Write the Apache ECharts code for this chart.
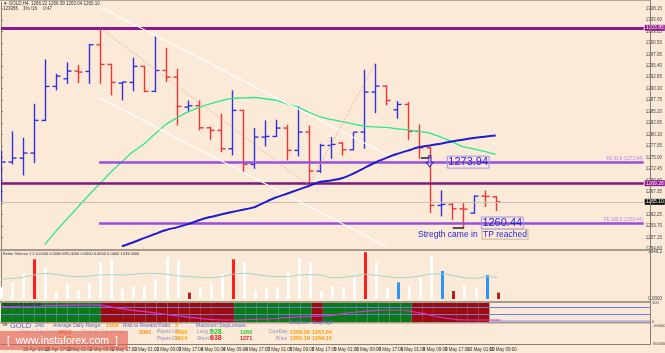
<!DOCTYPE html>
<html><head><meta charset="utf-8">
<script src="https://cdn.jsdelivr.net/npm/echarts@6.0.0/dist/echarts.min.js"></script>
<style>html,body{margin:0;padding:0;background:#faead7;overflow:hidden}#c{width:665px;height:353px}</style>
</head><body><div id="c"></div>
<script>
// ---------- data ----------
const dateLabels = ['29 Apr 2016','29 Apr 09:00','29 Apr 17:00','2 May 01:00','2 May 09:00','2 May 17:00','3 May 01:00','3 May 09:00','3 May 17:00','4 May 01:00','4 May 09:00','4 May 17:00','5 May 01:00','5 May 09:00','5 May 17:00','6 May 01:00','6 May 09:00','6 May 17:00','9 May 01:00','9 May 09:00','9 May 17:00','10 May 01:00','10 May 09:00'];
const opens  = [1272.83,1273.95,1274.84,1275.95,1283.23,1290.80,1292.51,1294.22,1294.14,1300.08,1295.70,1291.54,1291.69,1295.26,1289.69,1294.36,1292.88,1286.20,1286.50,1281.59,1281.00,1276.92,1285.46,1273.43,1279.52,1279.66,1281.52,1276.55,1280.63,1271.94,1277.66,1278.18,1276.70,1280.63,1289.54,1290.87,1285.60,1286.79,1280.78,1277.14,1264.30,1264.52,1263.55,1262.59,1266.38,1266.22];
const highs  = [1276.55,1280.78,1279.37,1286.94,1296.81,1293.62,1296.15,1295.63,1300.30,1303.87,1295.85,1291.84,1297.18,1295.40,1301.94,1299.41,1294.74,1287.68,1287.68,1281.89,1284.71,1289.91,1285.60,1281.52,1283.23,1283.38,1282.26,1286.35,1282.11,1278.03,1279.52,1278.40,1280.63,1294.51,1295.85,1291.02,1287.53,1287.31,1282.34,1277.29,1267.64,1264.82,1264.82,1266.52,1267.64,1266.39];
const lows   = [1265.04,1273.43,1270.98,1273.72,1283.08,1289.91,1291.39,1291.54,1291.39,1291.39,1288.80,1287.68,1289.69,1289.54,1289.54,1291.77,1282.11,1285.08,1281.00,1278.92,1276.18,1275.43,1271.72,1272.46,1277.44,1279.52,1274.32,1275.21,1268.75,1271.50,1274.69,1275.43,1276.55,1276.92,1284.86,1286.57,1283.60,1278.92,1274.69,1262.59,1261.85,1261.10,1259.10,1262.44,1263.93,1263.04];
const closes = [1273.95,1274.84,1275.95,1283.23,1290.80,1293.10,1294.22,1293.99,1300.08,1295.70,1291.69,1291.77,1295.26,1289.69,1294.36,1292.88,1286.35,1286.50,1281.59,1281.00,1276.92,1285.46,1273.43,1279.52,1279.66,1281.52,1276.55,1280.63,1271.94,1277.66,1277.88,1276.70,1280.63,1289.54,1290.87,1287.68,1286.79,1280.78,1277.14,1264.30,1264.52,1263.55,1263.48,1266.38,1266.30,1265.10];
const maFastStart = 4;
const maFast = [1255.61,1258.57,1261.27,1263.96,1266.63,1269.20,1271.76,1274.05,1276.23,1277.99,1280.20,1282.31,1283.81,1285.12,1286.10,1286.92,1287.59,1288.15,1288.24,1288.33,1288.06,1287.70,1286.97,1286.17,1285.05,1284.07,1283.45,1282.96,1282.47,1281.96,1281.78,1281.67,1281.38,1281.11,1280.78,1280.40,1279.53,1278.55,1277.39,1276.92,1276.32,1275.68];
const maSlowStart = 11;
const maSlow = [1255.20,1256.06,1257.01,1257.93,1258.82,1259.42,1260.13,1261.00,1261.71,1262.27,1262.83,1263.34,1263.87,1264.99,1266.06,1266.90,1267.77,1268.64,1269.53,1269.86,1270.35,1271.33,1272.56,1273.81,1274.83,1275.74,1276.50,1277.24,1277.66,1278.06,1278.53,1278.95,1279.31,1279.62,1279.86];
const volumes = [512,678,1038,1646,1314,304,623,374,650,1508,1646,415,512,540,816,1729,1619,263,484,650,1024,1646,1508,346,443,470,1093,1688,1508,332,512,484,885,1940,1508,443,692,581,899,1785,1162,332,581,443,996,263];
const volumeKinds = 'wwwrwwwwwwwwwwwwwdwwwrwwwwwwwwwwwrwwbwwwbdwwbd';
const volumeAvg = [816,857,899,996,1065,1023,954,927,954,996,1010,996,1023,1065,1065,1023,968,927,899,885,927,1023,1065,1023,954,927,927,996,1010,996,885,899,954,1023,982,927,885,899,954,1037,1037,968,885,857,927,899];
const oscValues = [80.4,81.2,82.9,84.2,85.4,86.8,88,88.8,89.6,88.4,78.7,68.6,60.2,55.1,47.5,39.1,31.5,24.8,18.1,13,10.5,10.5,12.2,13.9,15.6,19.8,24,27.3,29.9,31.5,36.6,45,52.6,57.7,61,63.1,61.9,55.1,45,31.5,21,13,10.5,10.5,10.5,10.5];
const oscBlocks = 'ggggggggg' + 'rrrrrrrrrrrr' + 'ggggggg' + 'r' + 'gggggggg' + 'rrrrrrr';
const oscLevels = [77.5, 42];
const topLevel = 1303.85, dailyLow = 1269.26, lastPrice = 1265.10;
const fe618 = 1273.94, fe100 = 1260.44;
// trend channel / swing lines as [barIndex, price] pairs
const channelUpper = [[9.1, 1308.39], [36.13, 1274.32]];
const channelLower = [[8.92, 1288.35], [35.05, 1255.17]];
const swingDown = [[9, 1303.87], [28, 1268.75]];
const swingUp = [[28, 1268.75], [34.05, 1295.92]];

// ---------- chart ----------
const XMAX = 58.47;
const BLUE = '#3232e2', RED = '#f03434';
const FONT = 'Liberation Sans';
const chart = echarts.init(document.getElementById('c'));
const ohlc = opens.map((o, i) => [i, o, highs[i], lows[i], closes[i]]);
const fastData = maFast.map((v, k) => [k + maFastStart, v]);
const slowData = maSlow.map((v, k) => [k + maSlowStart, v]);
const VCOL = {w: '#ffffff', r: '#ff1e1e', b: '#2f93ff', d: '#b0201c'};

function hl(v, color, width, tag) {
  return {yAxis: v, lineStyle: {color, width, type: 'solid'},
    label: tag ? {show: true, position: 'end', formatter: v.toFixed(2), backgroundColor: tag, color: '#fff',
      fontSize: 5, fontFamily: FONT, padding: [1, 1, 0, 1], distance: 1} : {show: false}};
}
function seg(a, b, style, label) {
  const l = label || {show: false};
  return [{coord: a, lineStyle: style, label: l}, {coord: b, lineStyle: style, label: l}];
}
function feLine(v, name) {
  const st = {color: '#9b4ddb', width: 2.5, type: 'solid'};
  const lab = {show: true, position: 'insideEndTop', formatter: name + ' (' + v.toFixed(2) + ')', color: '#b58ad8', fontSize: 4.5, fontFamily: FONT, distance: 1};
  return seg([8.92, v], [XMAX, v], st, lab);
}
function note(coord, text, size, color, border) {
  return {coord, symbol: 'rect', symbolSize: 1, itemStyle: {color: 'rgba(0,0,0,0)'},
    label: {show: true, position: 'inside', formatter: text, color, fontSize: size, fontFamily: FONT,
      borderColor: border || 'transparent', borderWidth: border ? 1 : 0, padding: [1, 1, 0, 1]}};
}
function T(x, y, text, size, color, weight) {
  return {type: 'text', x, y, z: 50, silent: true,
    style: {text, fill: color, font: (weight || 'normal') + ' ' + size + 'px "' + FONT + '"', verticalAlign: 'middle', align: 'left'}};
}
function R(x, y, w, h, fill, z) {
  return {type: 'rect', shape: {x, y, width: w, height: h}, style: {fill}, z: z || 40, silent: true};
}

const infoGrey = '#8f8fb8', infoBlue = '#6464c4', orange = '#ff9800';
const graphics = [
  R(0, 0, 650, 1, '#b4a898'),
  R(0, 249, 650, 2, '#a89a8a'),
  R(0, 301, 650, 2, '#a89a8a'),
  R(0, 322, 650, 1.5, '#a89a8a'),
  {type: 'line', shape: {x1: 650.5, y1: 0, x2: 650.5, y2: 345}, style: {stroke: '#8a7e70', lineWidth: 1}, z: 41, silent: true},
  T(3, 3.5, '\u25BC GOLD,H4  ' + opens[45].toFixed(2) + ' ' + highs[45].toFixed(2) + ' ' + lows[45].toFixed(2) + ' ' + closes[45].toFixed(2), 4.5, '#333'),
  T(3, 9, '123956    1% /16     0:47', 4.5, '#333'),
  T(3, 253.5, 'Better Volume 1.5 0.0000 0.0000 695.0000 0.0000 0.0000 0.0000 1433.0000', 4, '#333'),
  T(3, 305, 'TDI(13,2,7) 0.00 0.00', 4, '#111'),
  T(2, 325, 'TIR', 3.5, '#222'),
  T(10, 325.5, 'GOLD', 7.5, '#5a5ad2'),
  T(35, 325.5, '240', 5.5, infoBlue),
  T(53, 325.5, 'Average Daily Range:', 5, infoBlue),
  T(106, 325.5, '2169', 5.5, orange, 'bold'),
  T(123, 325.5, 'Risk to Reward Ratio:', 5, infoBlue),
  T(175, 325.5, '3', 5.5, orange, 'bold'),
  T(196, 325.5, 'Maximum StopLosses:', 5, infoBlue),
  T(290, 323, 'DailyLow', 4.5, infoBlue),
  T(313, 323, 'DailyHigh', 4.5, infoBlue),
  T(20, 332, 'Prev 1 Day Range:', 5, '#c8b4c8'),
  T(59, 332, '2618', 5.5, '#ff6a2a', 'bold'),
  T(82, 332, 'Prev 10 Day Range:', 5, '#c8b4c8'),
  T(139, 332, '2091', 5.5, '#ff8a1a', 'bold'),
  T(157, 332, 'Pipets UP:', 5, infoGrey),
  T(175, 332, '1686', 5.5, '#ffaa00', 'bold'),
  T(197, 332, 'Long P', 5, infoGrey),
  T(210, 332, '528', 7, '#22cc22', 'bold'),
  T(240, 332, '1266', 5.5, '#30c830', 'bold'),
  T(269, 332, 'CurrDay', 5, infoGrey),
  T(290, 332, '1269.26', 5.5, orange, 'bold'),
  T(312, 332, '1267.64', 5.5, orange, 'bold'),
  T(59, 338.5, '1938', 5.5, '#ff8a1a', 'bold'),
  T(157, 338.5, 'Pipets DN:', 5, infoGrey),
  T(175, 338.5, '1914', 5.5, '#ffaa00', 'bold'),
  T(197, 338.5, 'Short P', 5, infoGrey),
  T(210, 338.5, '638', 7, '#ee2020', 'bold'),
  T(240, 338.5, '1271', 5.5, '#ee2020', 'bold'),
  T(276, 338.5, 'Price', 5, infoGrey),
  T(290, 338.5, '1265.10', 5.5, orange, 'bold'),
  T(312, 338.5, '1266.10', 5.5, orange, 'bold'),
  T(653, 325.5, '-9000000', 4, '#444'),
  T(653, 344, '9000000', 4, '#444'),
  {type: 'rect', shape: {x: 0, y: 331, width: 128, height: 19}, style: {fill: 'rgba(226,90,78,0.62)'}, z: 60, silent: true},
  {type: 'text', x: 7, y: 341, z: 61, silent: true, style: {text: '[  www.instaforex.com  ]', fill: '#ffffff', font: '10.5px "' + FONT + '"', verticalAlign: 'middle'}}
];

const xAxes = [0, 1, 2, 3].map(g => ({
  type: 'value', gridIndex: g, min: 0, max: XMAX, interval: 2, show: g === 3,
  splitLine: {show: false}, axisTick: {show: false},
  axisLine: {show: g === 3, lineStyle: {color: '#8a7e70'}},
  axisLabel: {show: g === 3, fontSize: 4.5, fontFamily: FONT, color: '#333', margin: 3, align: 'left', showMaxLabel: false,
    formatter: v => { const k = Math.round(v); return (k % 2 === 0 && k / 2 < dateLabels.length) ? dateLabels[k / 2] : ''; }}
}));
const axLine = {show: true, lineStyle: {color: '#8a7e70'}};
const yAxes = [
  {type: 'value', gridIndex: 0, position: 'right', min: 1254.6, max: 1309.6, interval: 2.55, axisLine: axLine,
   axisTick: {show: true, length: 2, lineStyle: {color: '#8a7e70'}}, splitLine: {show: false},
   axisLabel: {fontSize: 4.5, fontFamily: FONT, color: '#444', margin: 2, showMaxLabel: false, formatter: v => v.toFixed(2)}},
  {type: 'value', gridIndex: 1, position: 'right', min: 0, max: 1949.2, interval: 1949.2, axisLine: axLine,
   axisTick: {show: false}, splitLine: {show: false},
   axisLabel: {fontSize: 4.5, fontFamily: FONT, color: '#444', margin: 2, formatter: v => v === 0 ? '0.0000' : v.toFixed(1)}},
  {type: 'value', gridIndex: 2, position: 'right', min: 0, max: 100, interval: 100, axisLine: axLine,
   axisTick: {show: false}, splitLine: {show: false},
   axisLabel: {fontSize: 4, fontFamily: FONT, color: '#444', margin: 2}},
  {type: 'value', gridIndex: 3, position: 'right', min: 0, max: 1, show: false}
];

const option = {
  backgroundColor: '#faead7',
  animation: false,
  grid: [
    {left: 1, right: 15, top: 2, height: 247},
    {left: 1, right: 15, top: 252, height: 47},
    {left: 1, right: 15, top: 303, height: 19},
    {left: 1, right: 15, top: 323, height: 21}
  ],
  xAxis: xAxes,
  yAxis: yAxes,
  graphic: graphics,
  series: [
    {type: 'custom', xAxisIndex: 0, yAxisIndex: 0, z: 3, clip: true, data: ohlc,
     renderItem: (p, api) => {
       const i = api.value(0), o = api.value(1), h = api.value(2), l = api.value(3), c = api.value(4);
       const pO = api.coord([i, o]), pH = api.coord([i, h]), pL = api.coord([i, l]), pC = api.coord([i, c]);
       const col = c > o ? BLUE : RED;
       const x = Math.round(pO[0]) + 0.5;
       const st = {stroke: col, lineWidth: 1.4};
       return {type: 'group', children: [
         {type: 'line', shape: {x1: x, y1: pH[1], x2: x, y2: pL[1]}, style: st},
         {type: 'line', shape: {x1: x - 4, y1: pO[1], x2: x, y2: pO[1]}, style: st},
         {type: 'line', shape: {x1: x, y1: pC[1], x2: x + 4, y2: pC[1]}, style: st}
       ]};
     }},
    {type: 'line', xAxisIndex: 0, yAxisIndex: 0, z: 4, data: fastData, symbol: 'none', smooth: 0.2,
     lineStyle: {color: '#2fe88c', width: 1.3},
     markLine: {silent: true, symbol: ['none', 'none'], animation: false, label: {show: false},
       data: [
         hl(topLevel, '#8e168e', 3, '#8e168e'),
         hl(dailyLow, '#7c1a7c', 2.5, '#8e168e'),
         hl(lastPrice, '#cbbfb2', 1, '#111111'),
         feLine(fe618, 'FE 61.8'),
         feLine(fe100, 'FE 100.0'),
         seg(channelUpper[0], channelUpper[1], {color: '#ffffff', width: 1.2, type: 'solid'}),
         seg(channelLower[0], channelLower[1], {color: '#ffffff', width: 1.2, type: 'solid'}),
         seg(swingDown[0], swingDown[1], {color: '#f28c84', width: 1, type: [1, 2]}),
         seg(swingUp[0], swingUp[1], {color: '#f28c84', width: 1, type: [1, 2]}),
         seg([38.2, 1274.92], [39.1, 1274.92], {color: '#222', width: 1.5, type: 'solid'}),
         seg([41.1, 1259.33], [42.1, 1259.33], {color: '#222', width: 1.5, type: 'solid'})
       ]}},
    {type: 'line', xAxisIndex: 0, yAxisIndex: 0, z: 5, data: slowData, symbol: 'none', smooth: 0.2,
     lineStyle: {color: '#1c1cd0', width: 2},
     markPoint: {silent: true, animation: false, data: [
       note([42.5, fe618], fe618.toFixed(2), 11, '#2424d8', '#a496e4'),
       note([45.6, fe100 - 0.05], fe100.toFixed(2), 11, '#2424d8', '#a496e4'),
       note([45.85, 1257.9], 'TP reached', 8.5, '#2424d8', '#cdb494'),
       note([40.65, 1257.9], 'Stregth came in', 8.5, '#2424d8'),
       {coord: [39, 1274.1], symbol: 'path://M3,0L7,0L7,7L10,7L5,12L0,7L3,7Z', symbolSize: [7, 11],
        itemStyle: {color: 'rgba(255,255,255,0.25)', borderColor: '#3030e0', borderWidth: 1}, label: {show: false}}
     ]}},
    {type: 'custom', xAxisIndex: 1, yAxisIndex: 1, z: 3, data: volumes.map((v, i) => [i, v]),
     renderItem: (p, api) => {
       const i = api.value(0), v = api.value(1);
       const a = api.coord([i, 0]), b = api.coord([i, v]);
       return {type: 'rect', shape: {x: Math.round(a[0]) - 1, y: b[1], width: 3, height: a[1] - b[1]},
         style: {fill: VCOL[volumeKinds[p.dataIndex]]}};
     }},
    {type: 'line', xAxisIndex: 1, yAxisIndex: 1, z: 4, data: volumeAvg.map((v, i) => [i, v]), symbol: 'none', smooth: 0.3,
     lineStyle: {color: '#a2d8c6', width: 1}},
    {type: 'custom', xAxisIndex: 2, yAxisIndex: 2, z: 1, data: oscBlocks.split('').map((c, i) => [i, 100]),
     renderItem: (p, api) => {
       const i = api.value(0);
       const a = api.coord([i, 0]), b = api.coord([i + 1, 100]);
       return {type: 'rect', shape: {x: a[0], y: b[1], width: b[0] - a[0], height: a[1] - b[1]},
         style: {fill: oscBlocks[p.dataIndex] === 'g' ? '#0a7a16' : '#9c0c0c'}};
     }},
    {type: 'line', xAxisIndex: 2, yAxisIndex: 2, z: 5, data: oscValues.map((v, i) => [i, v]), symbol: 'none', smooth: 0.3,
     lineStyle: {color: '#d634d6', width: 1.2},
     markLine: {silent: true, symbol: ['none', 'none'], animation: false, label: {show: false},
       data: [
         {yAxis: oscLevels[0], lineStyle: {color: '#6c7ce6', width: 1, type: 'solid'}},
         {yAxis: oscLevels[1], lineStyle: {color: '#6c7ce6', width: 1, type: 'solid'}},
         seg([44.1, 5], [XMAX, 5], {color: '#b6b0e6', width: 2.5, type: 'solid'})
       ]}}
  ]
};
chart.setOption(option);
</script></body></html>
